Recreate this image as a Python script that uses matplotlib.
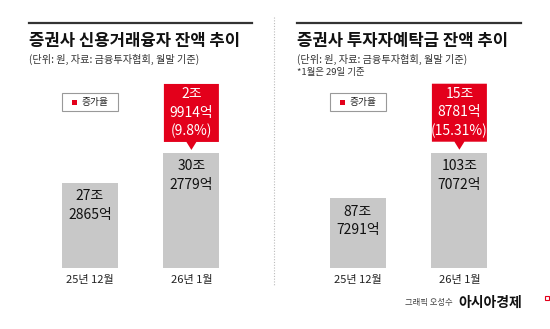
import matplotlib.pyplot as plt
from matplotlib.patches import Polygon, Rectangle
from matplotlib.lines import Line2D
from matplotlib.transforms import ScaledTranslation

plt.rcParams['font.family'] = ['Noto Sans CJK KR', 'DejaVu Sans']

# data (단위: 조원)
months = ['25년 12월', '26년 1월']

loan_values = [27.2865, 30.2779]
loan_labels = ['27조\n2865억', '30조\n2779억']
loan_change = '2조\n9914억\n(9.8%)'

deposit_values = [87.7291, 103.7072]
deposit_labels = ['87조\n7291억', '103조\n7072억']
deposit_change = '15조\n8781억\n(15.31%)'

RED = '#e3001b'
GRAY = '#c8c8c8'
W, H = 550, 329

fig = plt.figure(figsize=(W / 100, H / 100), dpi=100)


def fx(px):
    return px / W


def fy(py):
    return 1 - py / H


def draw_panel(x0, x1, title, values, labels, change, ylim, note=None):
    # header rule, title, source line
    fig.add_artist(Line2D([fx(x0), fx(x1)], [fy(22.5)] * 2, color='#333333', lw=1.6))
    fig.text(fx(x0), fy(41), title, fontsize=12, fontweight='bold',
             ha='left', va='center', color='#111111')
    fig.text(fx(x0), fy(59), '(단위: 원, 자료: 금융투자협회, 월말 기준)',
             fontsize=7.3, ha='left', va='center', color='#333333')
    if note:
        fig.text(fx(x0), fy(72.5), note, fontsize=6.8, ha='left', va='center', color='#333333')

    ax = fig.add_axes([fx(x0), fy(268), fx(x1) - fx(x0), (268 - 84) / H])
    ax.bar(range(len(values)), values, width=0.55, color=GRAY)
    ax.set_xlim(-0.6, -0.6 + (x1 - x0) / 101.5)
    ax.set_ylim(*ylim)
    ax.set_xticks(range(len(months)), months, fontsize=8, color='#222222')
    ax.tick_params(length=0, pad=5)
    ax.set_yticks([])
    for s in ax.spines.values():
        s.set_visible(False)
    ax.patch.set_alpha(0)

    # value labels inside the bars
    for i, (v, lab) in enumerate(zip(values, labels)):
        ax.annotate(lab, (i, v), xytext=(0, -23 * 0.72), textcoords='offset points',
                    ha='center', va='center', fontsize=10,
                    linespacing=1.45, color='#111111')

    # red callout over the last bar (offsets in pixels / 100 -> inches)
    i = len(values) - 1
    t = fig.dpi_scale_trans + ScaledTranslation(i, values[i], ax.transData)
    pts = [(0, 3), (5, 11), (27.5, 11), (27.5, 69), (-27.5, 69), (-27.5, 11), (-5, 11)]
    ax.add_patch(Polygon([(a / 100, b / 100) for a, b in pts], closed=True,
                         facecolor=RED, edgecolor='none', transform=t, clip_on=False))
    ax.text(0, 40 / 100, change, transform=t, ha='center', va='center',
            fontsize=10, linespacing=1.38, color='white')

    # key box
    kx = x0 + 33
    fig.add_artist(Rectangle((fx(kx), fy(111)), 56 / W, 18 / H, facecolor='white',
                             edgecolor='#999999', lw=0.8, transform=fig.transFigure))
    fig.add_artist(Rectangle((fx(kx + 10), fy(104.5)), 5 / W, 5 / H, facecolor=RED,
                             edgecolor='none', transform=fig.transFigure))
    fig.text(fx(kx + 19), fy(102), '증가율', fontsize=7, ha='left', va='center', color='#222222')
    return ax


draw_panel(29, 252, '증권사 신용거래융자 잔액 추이', loan_values, loan_labels,
           loan_change, (18.81, 37.15))
draw_panel(297, 521, '증권사 투자자예탁금 잔액 추이', deposit_values, deposit_labels,
           deposit_change, (63.03, 127.95), note='*1월은 29일 기준')

# divider between the panels
fig.add_artist(Line2D([fx(274)] * 2, [fy(17), fy(285)], color='#bbbbbb', lw=0.8,
                      linestyle=(0, (1, 1.5))))

# credit line
fig.text(fx(453), fy(303), '그래픽 오성수', fontsize=6, ha='right', va='center', color='#444444')
fig.text(fx(458), fy(303), '아시아경제', fontsize=10, fontweight='bold', ha='left',
         va='center', color='#111111')
fig.add_artist(Rectangle((fx(545), fy(300)), 4 / W, 4 / H, facecolor='none',
                         edgecolor=RED, lw=0.8, transform=fig.transFigure))

fig.savefig('out.png', dpi=100)
